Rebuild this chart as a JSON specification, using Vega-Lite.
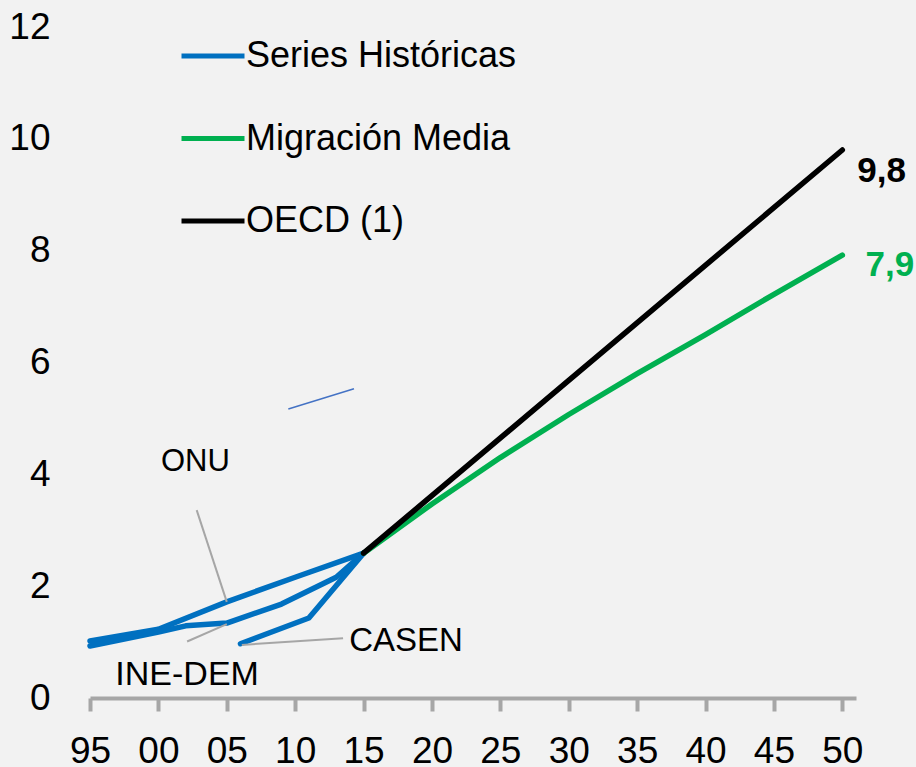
{
  "$schema": "https://vega.github.io/schema/vega-lite/v6.json",
  "width": 766,
  "height": 671,
  "autosize": {"type": "none"},
  "padding": {"left": 90, "top": 27, "right": 60, "bottom": 69},
  "background": "#F2F2F2",
  "config": {
    "view": {"stroke": null},
    "font": "Liberation Sans",
    "text": {"font": "Liberation Sans"}
  },
  "datasets": {
    "lines": [
      {"serie": "Series Históricas", "linea": "ONU", "year": 1995, "v": 1.02},
      {"serie": "Series Históricas", "linea": "ONU", "year": 2000, "v": 1.23},
      {"serie": "Series Históricas", "linea": "ONU", "year": 2005, "v": 1.72},
      {"serie": "Series Históricas", "linea": "ONU", "year": 2010, "v": 2.16},
      {"serie": "Series Históricas", "linea": "ONU", "year": 2015, "v": 2.59},
      {"serie": "Series Históricas", "linea": "INE-DEM", "year": 1995, "v": 0.93},
      {"serie": "Series Históricas", "linea": "INE-DEM", "year": 2000, "v": 1.18},
      {"serie": "Series Históricas", "linea": "INE-DEM", "year": 2002, "v": 1.29},
      {"serie": "Series Históricas", "linea": "INE-DEM", "year": 2005, "v": 1.34},
      {"serie": "Series Históricas", "linea": "INE-DEM", "year": 2009, "v": 1.68},
      {"serie": "Series Históricas", "linea": "INE-DEM", "year": 2013, "v": 2.16},
      {"serie": "Series Históricas", "linea": "INE-DEM", "year": 2015, "v": 2.59},
      {"serie": "Series Históricas", "linea": "CASEN", "year": 2006, "v": 0.97},
      {"serie": "Series Históricas", "linea": "CASEN", "year": 2011, "v": 1.43},
      {"serie": "Series Históricas", "linea": "CASEN", "year": 2015, "v": 2.59},
      {"serie": "Migración Media", "linea": "MM", "year": 2015, "v": 2.59},
      {"serie": "Migración Media", "linea": "MM", "year": 2020, "v": 3.47},
      {"serie": "Migración Media", "linea": "MM", "year": 2025, "v": 4.30},
      {"serie": "Migración Media", "linea": "MM", "year": 2030, "v": 5.07},
      {"serie": "Migración Media", "linea": "MM", "year": 2035, "v": 5.80},
      {"serie": "Migración Media", "linea": "MM", "year": 2040, "v": 6.50},
      {"serie": "Migración Media", "linea": "MM", "year": 2045, "v": 7.22},
      {"serie": "Migración Media", "linea": "MM", "year": 2050, "v": 7.92},
      {"serie": "OECD (1)", "linea": "OECD", "year": 2015, "v": 2.59},
      {"serie": "OECD (1)", "linea": "OECD", "year": 2030, "v": 5.68},
      {"serie": "OECD (1)", "linea": "OECD", "year": 2050, "v": 9.80}
    ],
    "leaders": [
      {"x": 2002.8, "y": 3.36, "x2": 2005.0, "y2": 1.72},
      {"x": 2002.1, "y": 1.01, "x2": 2005.0, "y2": 1.32},
      {"x": 2006.1, "y": 0.95, "x2": 2013.5, "y2": 1.07}
    ],
    "stray": [
      {"x": 2009.5, "y": 5.17, "x2": 2014.3, "y2": 5.53}
    ],
    "notes": [
      {"t": "ONU", "x": 2002.7, "y": 4.22, "s": 31},
      {"t": "INE-DEM", "x": 2002.1, "y": 0.42, "s": 34},
      {"t": "CASEN", "x": 2018.1, "y": 1.02, "s": 33}
    ],
    "ends": [
      {"t": "9,8", "x": 2051.1, "y": 9.42, "c": "#000000"},
      {"t": "7,9", "x": 2051.7, "y": 7.74, "c": "#00B050"}
    ]
  },
  "layer": [
    {
      "data": {"name": "lines"},
      "mark": {"type": "line", "strokeWidth": 5.5, "strokeCap": "round", "strokeJoin": "round", "clip": false},
      "encoding": {
        "x": {
          "field": "year", "type": "quantitative",
          "scale": {"domain": [1995, 2051], "nice": false, "zero": false},
          "axis": {
            "title": null, "grid": false,
            "values": [1995, 2000, 2005, 2010, 2015, 2020, 2025, 2030, 2035, 2040, 2045, 2050],
            "labelExpr": "substring(toString(datum.value), 2, 4)",
            "domainColor": "#A6A6A6", "domainWidth": 4,
            "tickColor": "#A6A6A6", "tickWidth": 4, "tickSize": 13,
            "labelFontSize": 37, "labelColor": "#000000", "labelPadding": 22,
            "labelFont": "Liberation Sans", "labelFlush": false, "labelOverlap": false
          }
        },
        "y": {
          "field": "v", "type": "quantitative",
          "scale": {"domain": [0, 12], "nice": false},
          "axis": {
            "title": null, "grid": false, "domain": false, "ticks": false, "tickSize": 0,
            "values": [0, 2, 4, 6, 8, 10, 12], "format": "d",
            "labelFontSize": 37, "labelColor": "#000000", "labelPadding": 40,
            "labelFont": "Liberation Sans", "labelFlush": false, "labelOverlap": false
          }
        },
        "color": {
          "field": "serie", "type": "nominal",
          "scale": {"domain": ["Series Históricas", "Migración Media", "OECD (1)"], "range": ["#0070C0", "#00B050", "#000000"]},
          "legend": {
            "title": null, "orient": "none", "legendX": 89, "legendY": -5,
            "symbolType": "stroke", "symbolSize": 3969, "symbolStrokeWidth": 5,
            "labelFontSize": 36, "labelFont": "Liberation Sans", "labelColor": "#000000",
            "labelOffset": -1, "rowPadding": 30.5, "labelLimit": 500
          }
        },
        "detail": {"field": "linea"}
      }
    },
    {
      "data": {"name": "leaders"},
      "mark": {"type": "rule", "color": "#A6A6A6", "strokeWidth": 2},
      "encoding": {
        "x": {"field": "x", "type": "quantitative"},
        "y": {"field": "y", "type": "quantitative"},
        "x2": {"field": "x2"},
        "y2": {"field": "y2"}
      }
    },
    {
      "data": {"name": "stray"},
      "mark": {"type": "rule", "color": "#4472C4", "strokeWidth": 1.5},
      "encoding": {
        "x": {"field": "x", "type": "quantitative"},
        "y": {"field": "y", "type": "quantitative"},
        "x2": {"field": "x2"},
        "y2": {"field": "y2"}
      }
    },
    {
      "data": {"name": "notes"},
      "mark": {"type": "text", "align": "center", "baseline": "middle", "color": "#000000"},
      "encoding": {
        "x": {"field": "x", "type": "quantitative"},
        "y": {"field": "y", "type": "quantitative"},
        "text": {"field": "t"},
        "size": {"field": "s", "type": "quantitative", "scale": null}
      }
    },
    {
      "data": {"name": "ends"},
      "mark": {"type": "text", "align": "left", "baseline": "middle", "fontWeight": "bold", "fontSize": 35, "clip": false},
      "encoding": {
        "x": {"field": "x", "type": "quantitative"},
        "y": {"field": "y", "type": "quantitative"},
        "text": {"field": "t"},
        "color": {"field": "c", "type": "nominal", "scale": null}
      }
    }
  ]
}
